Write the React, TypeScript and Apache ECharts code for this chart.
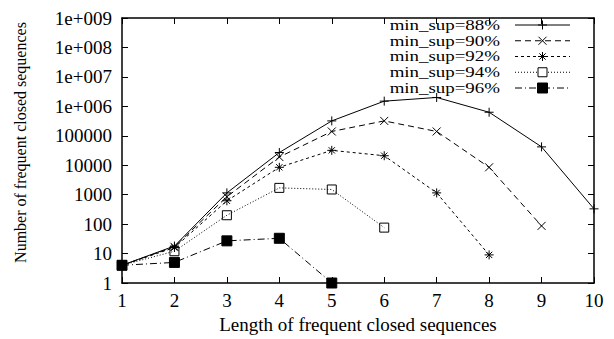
import React, { useEffect, useRef } from "react";
import * as echarts from "echarts";

const lengths = [1, 2, 3, 4, 5, 6, 7, 8, 9, 10];
const seriesNames = ["min_sup=88%", "min_sup=90%", "min_sup=92%", "min_sup=94%", "min_sup=96%"];
const sup88 = [4, 18, 1150, 27000, 320000, 1500000, 2000000, 630000, 42000, 330];
const sup90 = [4, 17, 850, 19000, 140000, 320000, 140000, 8500, 87, null];
const sup92 = [4, 16, 620, 8500, 32000, 21000, 1150, 9, null, null];
const sup94 = [4, 12, 200, 1700, 1500, 76, null, null, null, null];
const sup96 = [4, 5, 27, 33, 1, null, null, null, null, null];
const yTickLabels = ["1", "10", "100", "1000", "10000", "100000", "1e+006", "1e+007", "1e+008", "1e+009"];

const FONT = "Liberation Serif";

const plusPath = "path://M0,5L10,5M5,0L5,10";
const crossPath = "path://M0,0L10,10M10,0L0,10";
const starPath = "path://M0,5L10,5M5,0L5,10M1.5,1.5L8.5,8.5M8.5,1.5L1.5,8.5";

type Kind = "plus" | "cross" | "star" | "open" | "filled";
const styles: { kind: Kind; symbol: string; size: number; dash: any; fill: string }[] = [
  { kind: "plus", symbol: plusPath, size: 9, dash: "solid", fill: "none" },
  { kind: "cross", symbol: crossPath, size: 8, dash: [6, 4], fill: "none" },
  { kind: "star", symbol: starPath, size: 9, dash: [3, 3], fill: "none" },
  { kind: "open", symbol: "rect", size: 9, dash: [1, 2], fill: "transparent" },
  { kind: "filled", symbol: "rect", size: 10, dash: [7, 3, 1, 3], fill: "#000" },
];

function markerGraphic(kind: Kind, cx: number, cy: number, s: number) {
  const h = s / 2;
  const ln = (x1: number, y1: number, x2: number, y2: number) => ({
    type: "line",
    shape: { x1, y1, x2, y2 },
    style: { stroke: "#000", lineWidth: 1 },
    silent: true,
  });
  switch (kind) {
    case "plus":
      return [ln(cx - h, cy, cx + h, cy), ln(cx, cy - h, cx, cy + h)];
    case "cross":
      return [ln(cx - h, cy - h, cx + h, cy + h), ln(cx + h, cy - h, cx - h, cy + h)];
    case "star": {
      const d = h * 0.7;
      return [
        ln(cx - h, cy, cx + h, cy),
        ln(cx, cy - h, cx, cy + h),
        ln(cx - d, cy - d, cx + d, cy + d),
        ln(cx + d, cy - d, cx - d, cy + d),
      ];
    }
    case "open":
      return [{ type: "rect", shape: { x: cx - h, y: cy - h, width: s, height: s }, style: { fill: "#fff", stroke: "#000", lineWidth: 1 }, silent: true }];
    default:
      return [{ type: "rect", shape: { x: cx - h, y: cy - h, width: s, height: s }, style: { fill: "#000", stroke: "#000", lineWidth: 1 }, silent: true }];
  }
}

export default function App() {
  const ref = useRef<HTMLDivElement>(null);
  useEffect(() => {
    if (!ref.current) return;
    const chart = echarts.init(ref.current, null, { renderer: "svg" });
    const all = [sup88, sup90, sup92, sup94, sup96];
    const series = all.map((vals, i) => ({
      name: seriesNames[i],
      type: "line",
      data: lengths.map((x, j) => (vals[j] == null ? null : [x, vals[j]])).filter((d) => d),
      symbol: styles[i].symbol,
      symbolSize: styles[i].size,
      showAllSymbol: true,
      lineStyle: { color: "#000", width: 1, type: styles[i].dash },
      itemStyle: { color: styles[i].fill, borderColor: "#000", borderWidth: 1 },
      emphasis: { disabled: true },
      z: 5 - i,
    }));

    const legendItems: any[] = [];
    seriesNames.forEach((name, i) => {
      const cy = 25 + i * 15.75;
      legendItems.push({
        type: "text",
        x: 500,
        y: cy,
        scaleX: 1.22,
        style: { text: name, fontFamily: FONT, fontSize: 15.5, fill: "#000", align: "right", verticalAlign: "middle" },
        silent: true,
      });
      const dash = styles[i].dash;
      legendItems.push({
        type: "line",
        shape: { x1: 515, y1: cy, x2: 570, y2: cy },
        style: { stroke: "#000", lineWidth: 1, lineDash: Array.isArray(dash) ? dash : null },
        silent: true,
      });
      legendItems.push(...markerGraphic(styles[i].kind, 542.5, cy, styles[i].size));
    });

    chart.setOption({
      animation: false,
      backgroundColor: "#fff",
      textStyle: { fontFamily: FONT, fontSize: 19, color: "#000" },
      grid: { left: 122, right: 20, top: 18, bottom: 50, containLabel: false },
      graphic: legendItems,
      xAxis: [
        {
          type: "value",
          min: 1,
          max: 10,
          interval: 1,
          name: "Length of frequent closed sequences",
          nameLocation: "middle",
          nameGap: 32,
          nameTextStyle: { fontFamily: FONT, fontSize: 19, color: "#000" },
          axisLine: { lineStyle: { color: "#000", width: 1.5 } },
          axisTick: { inside: true, length: 6, lineStyle: { color: "#000" } },
          axisLabel: { fontFamily: FONT, fontSize: 19, color: "#000", margin: 8 },
          splitLine: { show: false },
        },
        {
          type: "value",
          position: "top",
          min: 1,
          max: 10,
          interval: 1,
          axisLine: { lineStyle: { color: "#000", width: 1.5 } },
          axisTick: { inside: true, length: 6, lineStyle: { color: "#000" } },
          axisLabel: { show: false },
          splitLine: { show: false },
        },
      ],
      yAxis: [
        {
          type: "log",
          logBase: 10,
          min: 1,
          max: 1e9,
          splitNumber: 9,
          name: "Number of frequent closed sequences",
          nameLocation: "middle",
          nameGap: 94,
          nameTextStyle: { fontFamily: FONT, fontSize: 16, color: "#000", padding: [0, 0, 0, 16] },
          axisLine: { show: true, lineStyle: { color: "#000", width: 1.5 } },
          axisTick: { show: true, inside: true, length: 6, lineStyle: { color: "#000" } },
          axisLabel: {
            fontFamily: FONT,
            fontSize: 19,
            color: "#000",
            margin: 10,
            formatter: (v: number) => yTickLabels[Math.round(Math.log10(v))] ?? "",
          },
          splitLine: { show: false },
        },
        {
          type: "log",
          logBase: 10,
          min: 1,
          max: 1e9,
          splitNumber: 9,
          position: "right",
          axisLine: { show: true, lineStyle: { color: "#000", width: 1.5 } },
          axisTick: { show: true, inside: true, length: 6, lineStyle: { color: "#000" } },
          axisLabel: { show: false },
          splitLine: { show: false },
        },
      ],
      series,
    });
    return () => chart.dispose();
  }, []);
  return <div ref={ref} style={{ width: 614, height: 339, position: "absolute", left: 0, top: 0 }} />;
}
